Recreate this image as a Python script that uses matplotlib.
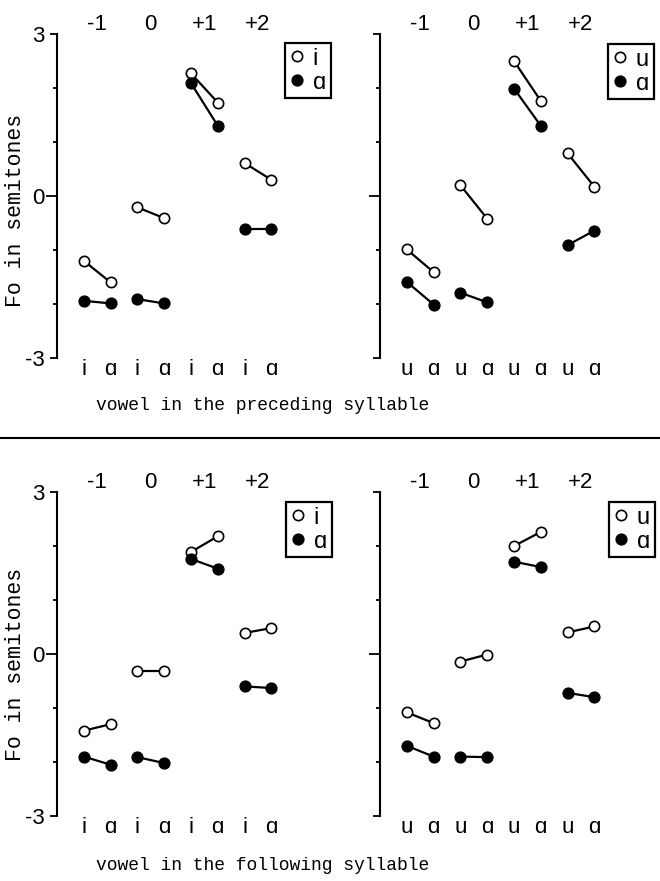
import matplotlib
matplotlib.use("Agg")
import matplotlib.pyplot as plt
from matplotlib.lines import Line2D

# ---------------- data ----------------
groups = ["-1", "0", "+1", "+2"]
ctx_left = ["i", "ɑ"] * 4
ctx_right = ["u", "ɑ"] * 4

top_left_open = [-1.20, -1.60, -0.21, -0.41, 2.27, 1.73, 0.61, 0.30]
top_left_filled = [-1.94, -1.99, -1.91, -1.99, 2.09, 1.30, -0.61, -0.61]
top_right_open = [-0.99, -1.41, 0.20, -0.42, 2.50, 1.76, 0.79, 0.17]
top_right_filled = [-1.59, -2.01, -1.79, -1.97, 1.99, 1.30, -0.91, -0.64]
bot_left_open = [-1.42, -1.30, -0.31, -0.31, 1.89, 2.18, 0.39, 0.48]
bot_left_filled = [-1.90, -2.05, -1.91, -2.02, 1.76, 1.58, -0.60, -0.63]
bot_right_open = [-1.08, -1.28, -0.14, -0.01, 2.00, 2.26, 0.40, 0.51]
bot_right_filled = [-1.70, -1.90, -1.90, -1.91, 1.71, 1.61, -0.72, -0.80]

yticks_major = [-3, 0, 3]
yticks_minor = [-2, -1, 1, 2]

SANS = ["Liberation Sans Narrow", "Liberation Sans", "DejaVu Sans"]
MONO = ["Liberation Mono", "DejaVu Sans Mono"]

W, H = 660, 881
fig = plt.figure(figsize=(W / 100, H / 100), dpi=100)

UNIT = 26.8  # px per x unit


def px_axes(left, top, bottom):
    width = 9 * UNIT
    return fig.add_axes([left / W, 1 - bottom / H, width / W, (bottom - top) / H])


def panel(ax, openv, filledv, labels, leg_labels, show_ylab, leg_box):
    for g in range(4):
        xs = [2 * g, 2 * g + 1]
        ax.plot(xs, openv[2 * g:2 * g + 2], color="black", lw=1.6, zorder=2)
        ax.plot(xs, filledv[2 * g:2 * g + 2], color="black", lw=1.6, zorder=2)
        ax.plot(xs, openv[2 * g:2 * g + 2], ls="none", marker="o", ms=7.4,
                mfc="white", mec="black", mew=1.2, zorder=3)
        ax.plot(xs, filledv[2 * g:2 * g + 2], ls="none", marker="o", ms=7.8,
                mfc="black", mec="black", mew=1.0, zorder=4)
        ax.text(2 * g + 0.5, 1 + 9 / 324, groups[g], transform=ax.get_xaxis_transform(),
                ha="center", va="center", fontsize=16, family=SANS)
    ax.set_xlim(-1, 8)
    ax.set_ylim(-3, 3)
    for s in ["top", "right", "bottom"]:
        ax.spines[s].set_visible(False)
    ax.spines["left"].set_linewidth(1.5)
    ax.set_xticks(range(8))
    ax.set_xticklabels(labels, fontsize=16, family=SANS)
    ax.tick_params(axis="x", length=0, pad=1)
    ax.set_yticks(yticks_major)
    ax.set_yticks(yticks_minor, minor=True)
    ax.tick_params(axis="y", which="major", length=5, width=1.3, pad=4)
    ax.tick_params(axis="y", which="minor", length=3, width=1.3)
    if show_ylab:
        ax.set_yticklabels(["-3", "0", "3"], fontsize=16, family=SANS)
    else:
        ax.set_yticklabels([])
    # longer tick at zero
    ax.yaxis.get_major_ticks()[1].tick1line.set_markersize(8)

    handles = [
        Line2D([], [], ls="none", marker="o", ms=7.4, mfc="white", mec="black", mew=1.2),
        Line2D([], [], ls="none", marker="o", ms=7.8, mfc="black", mec="black"),
    ]
    lx, ly = leg_box
    leg = fig.legend(handles, leg_labels, loc="upper left",
                     bbox_to_anchor=(lx / W, 1 - ly / H), bbox_transform=fig.transFigure,
                     frameon=True, fancybox=False, framealpha=1, edgecolor="black",
                     prop={"family": SANS, "size": 17}, handlelength=0.6,
                     handletextpad=0.38, borderpad=0.2, labelspacing=0.08,
                     borderaxespad=0, handleheight=0.7)
    leg.get_frame().set_linewidth(1.6)


ax1 = px_axes(57, 34, 358)
panel(ax1, top_left_open, top_left_filled, ctx_left, ["i", "ɑ"], True, (285, 43))
ax2 = px_axes(380, 34, 358)
panel(ax2, top_right_open, top_right_filled, ctx_right, ["u", "ɑ"], False, (608, 44))
ax3 = px_axes(57, 492, 816)
panel(ax3, bot_left_open, bot_left_filled, ctx_left, ["i", "ɑ"], True, (286, 502))
ax4 = px_axes(380, 492, 816)
panel(ax4, bot_right_open, bot_right_filled, ctx_right, ["u", "ɑ"], False, (609, 502))

fig.text(263 / W, 1 - 405 / H, "vowel in the preceding syllable", ha="center",
         va="center", fontsize=13, family=MONO)
fig.text(263 / W, 1 - 866 / H, "vowel in the following syllable", ha="center",
         va="center", fontsize=13, family=MONO)
fig.text(16 / W, 1 - 210 / H, "Fo in semitones", rotation=90, ha="center",
         va="center", fontsize=15.5, family=MONO)
fig.text(16 / W, 1 - 664 / H, "Fo in semitones", rotation=90, ha="center",
         va="center", fontsize=15.5, family=MONO)

fig.add_artist(Line2D([0, 1], [1 - 438 / H, 1 - 438 / H], transform=fig.transFigure,
                      color="black", lw=1.5))

fig.savefig("out.png", dpi=100)
